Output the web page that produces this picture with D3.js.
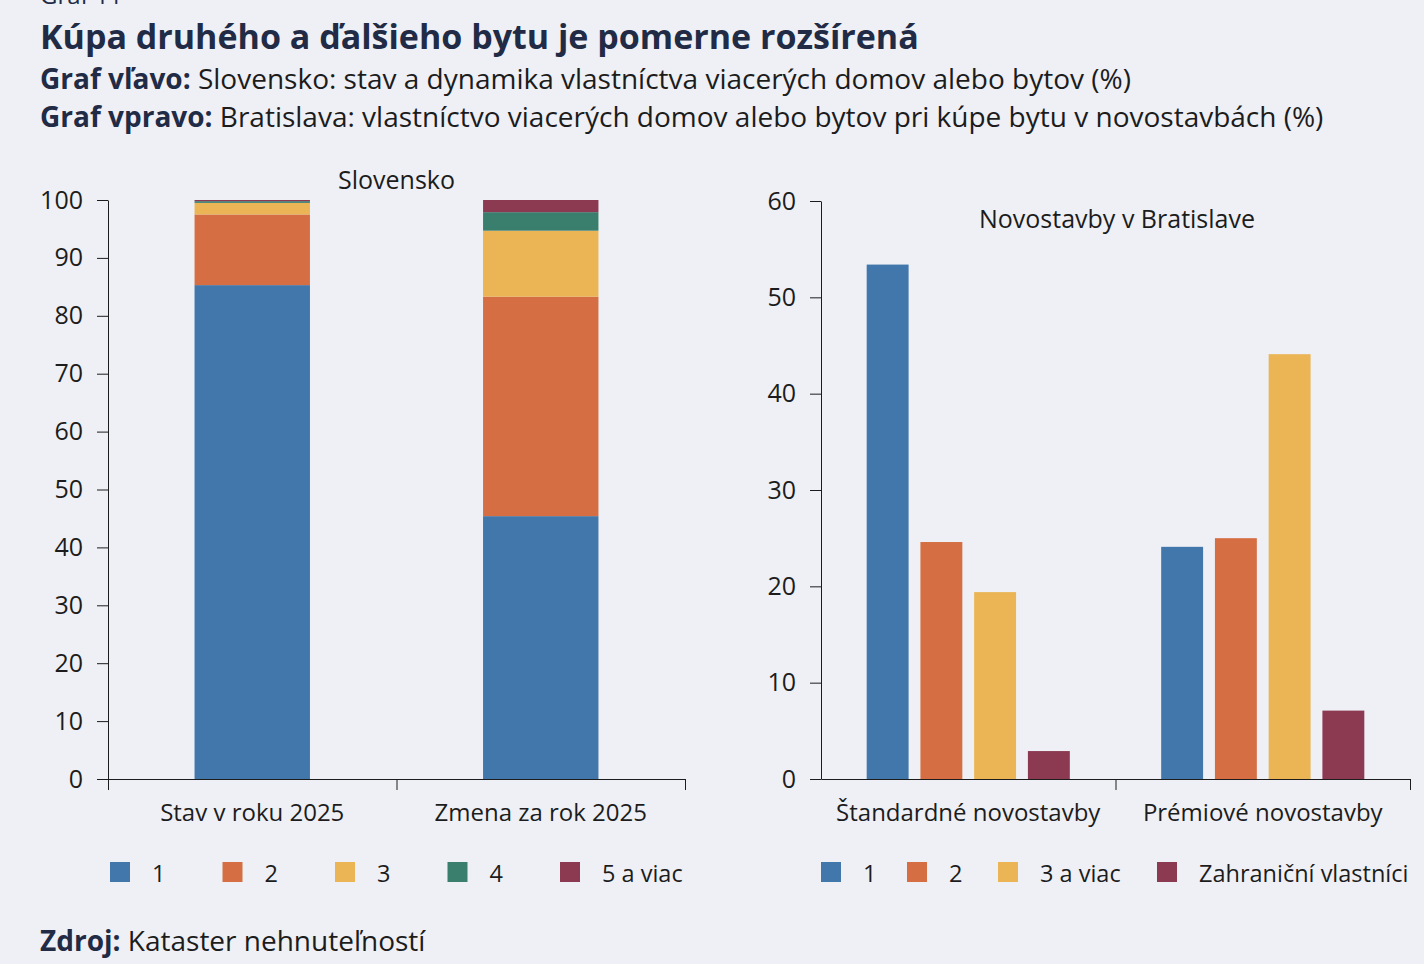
<!DOCTYPE html>
<html>
<head>
<meta charset="utf-8">
<script src="https://cdn.jsdelivr.net/npm/d3@7"></script>
<style>
  body { margin: 0; background: #eff0f5; }
  svg { font-family: "Open Sans", "Noto Sans", sans-serif; }
</style>
</head>
<body>
<svg id="chart"></svg>
<script>
// left chart: Slovensko, stacked
const leftCats = ["Stav v roku 2025", "Zmena za rok 2025"];
const leftKeys = ["1", "2", "3", "4", "5 a viac"];
const leftVals = [
  [85.3, 45.4],   // 1
  [12.2, 37.9],   // 2
  [2.0, 11.4],    // 3
  [0.3, 3.2],     // 4
  [0.2, 2.1]      // 5 a viac
];
const leftTicks = [0, 10, 20, 30, 40, 50, 60, 70, 80, 90, 100];

// right chart: Novostavby v Bratislave, grouped
const rightCats = ["Štandardné novostavby", "Prémiové novostavby"];
const rightKeys = ["1", "2", "3 a viac", "Zahraniční vlastníci"];
const rightVals = [
  [53.4, 24.1],
  [24.6, 25.0],
  [19.4, 44.1],
  [2.9, 7.1]
];
const rightTicks = [0, 10, 20, 30, 40, 50, 60];

const colors = ["#4177ab", "#d66e43", "#ebb454", "#3a7f6e", "#8b3a52"];
const rightColors = ["#4177ab", "#d66e43", "#ebb454", "#8b3a52"];
const ink = "#1c1c1c";
const navy = "#222b45";

var svg = d3.select("#chart").attr("width", 1424).attr("height", 964);

// header
svg.append("text").attr("x", 40).attr("y", 4).attr("font-size", 24).attr("fill", navy).text("Graf 11");
svg.append("text").attr("x", 40).attr("y", 49).attr("font-size", 34).attr("font-weight", 700)
  .attr("fill", navy).text("Kúpa druhého a ďalšieho bytu je pomerne rozšírená");
var s1 = svg.append("text").attr("x", 40).attr("y", 89).attr("font-size", 28).attr("fill", ink);
s1.append("tspan").attr("font-weight", 700).attr("fill", navy).text("Graf vľavo: ");
s1.append("tspan").text("Slovensko: stav a dynamika vlastníctva viacerých domov alebo bytov (%)");
var s2 = svg.append("text").attr("x", 40).attr("y", 127).attr("font-size", 28).attr("fill", ink);
s2.append("tspan").attr("font-weight", 700).attr("fill", navy).text("Graf vpravo: ");
s2.append("tspan").text("Bratislava: vlastníctvo viacerých domov alebo bytov pri kúpe bytu v novostavbách (%)");

var f = svg.append("text").attr("x", 40).attr("y", 951).attr("font-size", 28).attr("fill", ink);
f.append("tspan").attr("font-weight", 700).attr("fill", navy).text("Zdroj: ");
f.append("tspan").text("Kataster nehnuteľností");

function styleAxis(g) {
  g.selectAll("path").attr("stroke", ink);
  g.selectAll("line").attr("stroke", ink);
  g.selectAll("text").attr("font-size", 25).attr("fill", ink).attr("font-family", "'Open Sans', 'Noto Sans', sans-serif");
}

// ---- left chart
const L = { x0: 108, x1: 685, y0: 779, y1: 200 };
var xl = d3.scaleBand().domain(leftCats).range([L.x0, L.x1]).paddingInner(0.6).paddingOuter(0.3);
var yl = d3.scaleLinear().domain([0, 100]).range([L.y0, L.y1]);

var stackData = leftCats.map((c, i) => {
  var o = { cat: c };
  leftKeys.forEach((k, j) => o[k] = leftVals[j][i]);
  return o;
});
var series = d3.stack().keys(leftKeys)(stackData);
svg.append("g").selectAll("g").data(series).join("g")
  .attr("fill", (d, i) => colors[i])
  .selectAll("rect").data(d => d).join("rect")
  .attr("x", d => xl(d.data.cat))
  .attr("width", xl.bandwidth())
  .attr("y", d => yl(d[1]))
  .attr("height", d => yl(d[0]) - yl(d[1]));

var gyl = svg.append("g").attr("transform", "translate(" + L.x0 + ",0)")
  .call(d3.axisLeft(yl).tickValues(leftTicks).tickSize(11).tickPadding(14).tickSizeOuter(0));
styleAxis(gyl);
// x axis with ticks at band edges
var xlEdge = d3.scalePoint().domain(["a", "b", "c"]).range([L.x0, L.x1]);
var gxl = svg.append("g").attr("transform", "translate(0," + L.y0 + ")")
  .call(d3.axisBottom(xlEdge).tickSize(11).tickSizeOuter(0).tickFormat(""));
styleAxis(gxl);
svg.append("g").selectAll("text").data(leftCats).join("text")
  .attr("x", d => xl(d) + xl.bandwidth() / 2).attr("y", 821)
  .attr("text-anchor", "middle").attr("font-size", 24).attr("fill", ink).text(d => d);
svg.append("text").attr("x", (L.x0 + L.x1) / 2).attr("y", 189).attr("text-anchor", "middle")
  .attr("font-size", 25).attr("fill", ink).text("Slovensko");

// left legend
var lgL = svg.append("g").selectAll("g").data(leftKeys).join("g")
  .attr("transform", (d, i) => "translate(" + (110 + i * 112.5) + ",862)");
lgL.append("rect").attr("width", 20).attr("height", 20).attr("fill", (d, i) => colors[i]);
lgL.append("text").attr("x", 42).attr("y", 20).attr("font-size", 23.5).attr("fill", ink).text(d => d);

// ---- right chart
const R = { x0: 821, x1: 1410, y0: 779, y1: 201 };
var xr = d3.scaleBand().domain(rightCats).range([R.x0, R.x1]);
var xr2 = d3.scaleBand().domain(rightKeys).range([0, xr.bandwidth()]).paddingInner(0.22).paddingOuter(0.85);
var yr = d3.scaleLinear().domain([0, 60]).range([R.y0, R.y1]);

svg.append("g").selectAll("g").data(rightKeys).join("g")
  .attr("fill", (d, i) => rightColors[i])
  .selectAll("rect").data((k, j) => rightCats.map((c, i) => ({ cat: c, key: k, v: rightVals[j][i] }))).join("rect")
  .attr("x", d => xr(d.cat) + xr2(d.key))
  .attr("width", xr2.bandwidth())
  .attr("y", d => yr(d.v))
  .attr("height", d => yr(0) - yr(d.v));

var gyr = svg.append("g").attr("transform", "translate(" + R.x0 + ",0)")
  .call(d3.axisLeft(yr).tickValues(rightTicks).tickSize(11).tickPadding(14).tickSizeOuter(0));
styleAxis(gyr);
var xrEdge = d3.scalePoint().domain(["a", "b", "c"]).range([R.x0, R.x1]);
var gxr = svg.append("g").attr("transform", "translate(0," + R.y0 + ")")
  .call(d3.axisBottom(xrEdge).tickSize(11).tickSizeOuter(0).tickFormat(""));
styleAxis(gxr);
gxr.selectAll(".tick").filter((d, i) => i === 0).remove();
svg.append("g").selectAll("text").data(rightCats).join("text")
  .attr("x", d => xr(d) + xr.bandwidth() / 2).attr("y", 821)
  .attr("text-anchor", "middle").attr("font-size", 24).attr("fill", ink).text(d => d);
svg.append("text").attr("x", 1117).attr("y", 228).attr("text-anchor", "middle")
  .attr("font-size", 25).attr("fill", ink).text("Novostavby v Bratislave");

// right legend
const rightLegX = [821, 907, 998, 1157];
var lgR = svg.append("g").selectAll("g").data(rightKeys).join("g")
  .attr("transform", (d, i) => "translate(" + rightLegX[i] + ",862)");
lgR.append("rect").attr("width", 20).attr("height", 20).attr("fill", (d, i) => rightColors[i]);
lgR.append("text").attr("x", 42).attr("y", 20).attr("font-size", 23.5).attr("fill", ink).text(d => d);
</script>
</body>
</html>
